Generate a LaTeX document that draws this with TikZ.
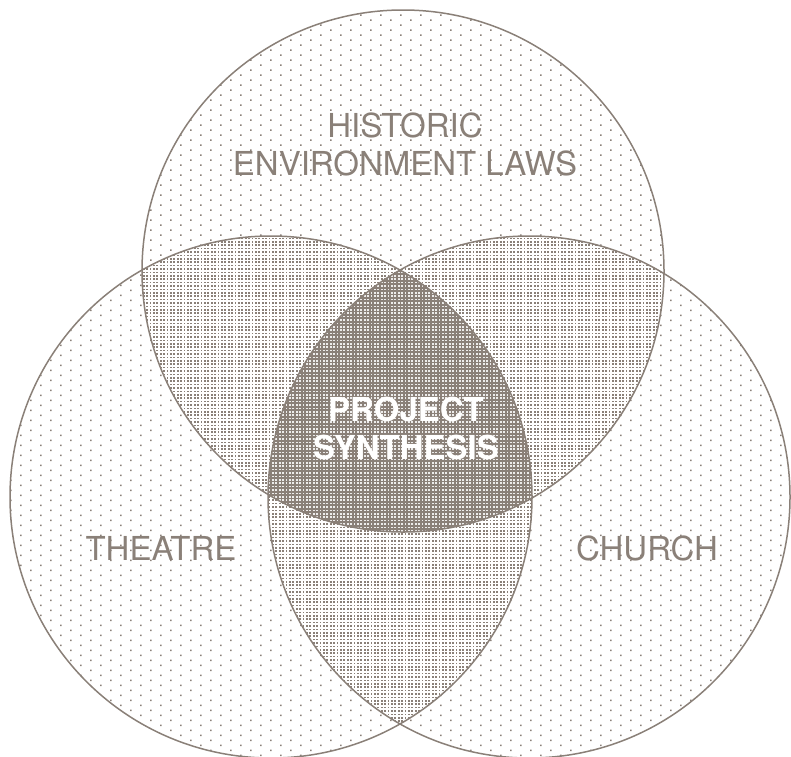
\documentclass[tikz,border=0pt]{standalone}
\usepackage{fontspec}
\setmainfont{TeX Gyre Heros}
\usetikzlibrary{patterns}
\definecolor{venn}{RGB}{138,128,120}
\pgfdeclarepatternformonly{sparsedots}{\pgfpoint{-1pt}{-1pt}}{\pgfpoint{21pt}{11pt}}{\pgfpoint{20pt}{10pt}}{%
  \pgfpathrectangle{\pgfpoint{0pt}{0pt}}{\pgfpoint{1.5pt}{1.5pt}}%
  \pgfpathrectangle{\pgfpoint{10pt}{5pt}}{\pgfpoint{1.5pt}{1.5pt}}%
  \pgfusepath{fill}}
\pgfdeclarepatternformonly{densedots}{\pgfpoint{-1pt}{-1pt}}{\pgfpoint{4.4pt}{4.4pt}}{\pgfpoint{3.4pt}{3.4pt}}{%
  \pgfpathrectangle{\pgfpoint{0pt}{0pt}}{\pgfpoint{1.7pt}{1.7pt}}%
  \pgfusepath{fill}}
\tikzset{
  ring/.style={draw=venn, line width=1.5pt},
  lbl/.style={text=venn, font=\fontsize{33}{38}\selectfont, align=center},
  core/.style={text=white, font=\fontsize{33}{38}\selectfont\bfseries, align=center}
}
\begin{document}
\begin{tikzpicture}[x=1pt,y=-1pt]
\useasboundingbox (0,0) rectangle (791,756);
\begin{scope}
\clip (0,0) rectangle (791,756);
\coordinate (ct) at (403,271);
\coordinate (cl) at (271,497);
\coordinate (cr) at (529,497);
\def\R{261}
% single circles
\fill[pattern=sparsedots, pattern color=venn] (ct) circle (\R);
\fill[pattern=sparsedots, pattern color=venn] (cl) circle (\R);
\fill[pattern=sparsedots, pattern color=venn] (cr) circle (\R);
% pairwise overlaps
\begin{scope}
  \clip (ct) circle (\R);
  \fill[white] (cl) circle (\R);
  \fill[white] (cr) circle (\R);
  \fill[pattern=densedots, pattern color=venn] (cl) circle (\R);
  \fill[pattern=densedots, pattern color=venn] (cr) circle (\R);
\end{scope}
\begin{scope}
  \clip (cl) circle (\R);
  \fill[white] (cr) circle (\R);
  \fill[pattern=densedots, pattern color=venn] (cr) circle (\R);
\end{scope}
% triple overlap
\begin{scope}
  \clip (ct) circle (\R);
  \clip (cl) circle (\R);
  \fill[venn] (cr) circle (\R);
  \fill[pattern=densedots, pattern color=white!85!venn] (cr) circle (\R);
\end{scope}
\node[ring, circle, minimum size=522pt, inner sep=0pt] (top) at (ct) {};
\node[ring, circle, minimum size=522pt, inner sep=0pt] (left) at (cl) {};
\node[ring, circle, minimum size=522pt, inner sep=0pt] (right) at (cr) {};
\end{scope}
\node[lbl] (hist) at (405,144) {HISTORIC\\ENVIRONMENT LAWS};
\node[lbl] (theatre) at (161,548) {THEATRE};
\node[lbl] (church) at (647,548) {CHURCH};
\node[core] (synth) at (406,428) {PROJECT\\SYNTHESIS};
\end{tikzpicture}
\end{document}
